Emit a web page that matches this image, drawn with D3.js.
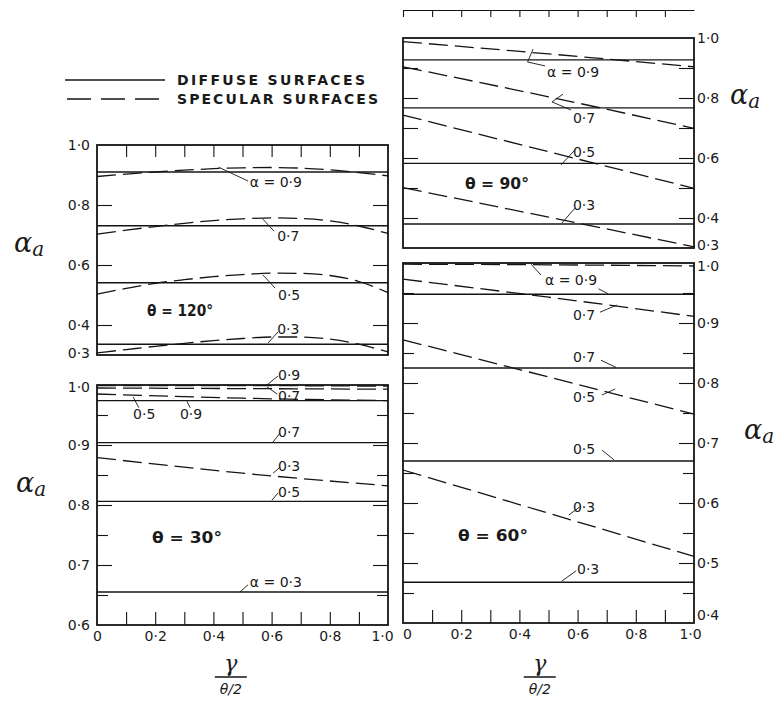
<!DOCTYPE html>
<html>
<head>
<meta charset="utf-8">
<script src="https://cdn.jsdelivr.net/npm/d3@7"></script>
<style>
  body { margin: 0; background: #fff; }
  text { font-family: "DejaVu Sans", "Liberation Sans", sans-serif; fill: #1a1a1a; }
</style>
</head>
<body>
<div id="graph"></div>
<script>
// values (alpha_a vs gamma/(theta/2))

var alphas = [0.9, 0.7, 0.5, 0.3];
var gammaArc = [0, 0.1, 0.2, 0.3, 0.4, 0.5, 0.6, 0.7, 0.8, 0.9, 1.0];
var gammaLine = [0, 0.5, 1.0];
var xTicks = [0, 0.2, 0.4, 0.6, 0.8, 1.0];

// theta = 120 deg
var diffuse120 = [0.910, 0.731, 0.541, 0.336];
var specular120 = [
  [0.895, 0.903, 0.910, 0.916, 0.921, 0.924, 0.925, 0.923, 0.917, 0.908, 0.897],
  [0.703, 0.716, 0.728, 0.739, 0.748, 0.754, 0.757, 0.755, 0.747, 0.730, 0.705],
  [0.503, 0.522, 0.539, 0.551, 0.561, 0.568, 0.573, 0.572, 0.565, 0.545, 0.508],
  [0.307, 0.318, 0.329, 0.339, 0.348, 0.355, 0.360, 0.360, 0.353, 0.336, 0.310]
];

// theta = 30 deg
var diffuse30 = [0.974, 0.904, 0.806, 0.655];
var specular30 = [
  [0.999, 0.999, 0.998],
  [0.995, 0.994, 0.993],
  [0.985, 0.978, 0.974],
  [0.879, 0.853, 0.832]
];

// theta = 90 deg
var diffuse90 = [0.927, 0.767, 0.582, 0.380];
var specular90 = [
  [0.988, 0.947, 0.904],
  [0.904, 0.804, 0.699],
  [0.743, 0.621, 0.499],
  [0.501, 0.403, 0.304]
];

// theta = 60 deg
var diffuse60 = [0.948, 0.825, 0.670, 0.468];
var specular60 = [
  [0.998, 0.997, 0.995],
  [0.973, 0.943, 0.911],
  [0.872, 0.810, 0.748],
  [0.655, 0.583, 0.511]
];

// svg
var w = 779, h = 701;
var vis = d3.select("#graph").append("svg").attr("width", w).attr("height", h);

var ink = "#141414";
var dash = "19,7";
var fmt = d => d === 0 ? "0" : d3.format(".1f")(d).replace(".", "\u00b7");

var panels = [
  { title: "\u03b8 = 120\u00b0", tpos: [0.172, 0.448], tlen: 66,
    x0: 97, x1: 388, yt: 145, yb: 355, dom: [0.3, 1.0], side: "left",
    labels: [1.0, 0.8, 0.6, 0.4, 0.3], major: [0.4, 0.6, 0.8], minor: [],
    yShift: { 0.3: -2 }, xShift: {},
    topTicks: true, bottomTicks: false,
    gx: gammaArc, diffuse: diffuse120, specular: specular120,
    notes: [
      { t: "\u03b1 = 0\u00b79", at: [0.525, 0.877], lead: [[0.418, 0.926], [0.519, 0.88]] },
      { t: "0\u00b77", at: [0.619, 0.697], lead: [[0.570, 0.753], [0.608, 0.713]] },
      { t: "0\u00b75", at: [0.622, 0.500], lead: [[0.570, 0.567], [0.612, 0.523]] },
      { t: "0\u00b73", at: [0.619, 0.387], lead: [[0.588, 0.340], [0.622, 0.377]] }
    ] },
  { title: "\u03b8 = 30\u00b0", tpos: [0.189, 0.747], tlen: 70,
    x0: 97, x1: 388, yt: 385, yb: 625, dom: [0.6, 1.0], side: "left",
    labels: [1.0, 0.9, 0.8, 0.7, 0.6], major: [0.7, 0.8, 0.9], minor: [0.65, 0.75, 0.85, 0.95],
    yShift: { 1: 2 }, xShift: { 1: -6 },
    topTicks: false, bottomTicks: true,
    gx: gammaLine, diffuse: diffuse30, specular: specular30,
    notes: [
      { t: "0\u00b79", at: [0.622, 1.017], lead: [[0.584, 1.0], [0.622, 1.015]] },
      { t: "0\u00b77", at: [0.622, 0.982], lead: [[0.584, 0.997], [0.619, 0.985]] },
      { t: "0\u00b75", at: [0.124, 0.952], lead: [[0.124, 0.980], [0.144, 0.962]] },
      { t: "0\u00b79", at: [0.285, 0.952], lead: [[0.309, 0.973], [0.320, 0.962]] },
      { t: "0\u00b77", at: [0.622, 0.922], lead: [[0.605, 0.905], [0.629, 0.920]] },
      { t: "0\u00b73", at: [0.622, 0.865], lead: [[0.605, 0.853], [0.629, 0.863]] },
      { t: "0\u00b75", at: [0.622, 0.822], lead: [[0.601, 0.808], [0.622, 0.820]] },
      { t: "\u03b1 = 0\u00b73", at: [0.525, 0.672], lead: [[0.491, 0.655], [0.519, 0.667]] }
    ] },
  { title: "\u03b8 = 90\u00b0", tpos: [0.213, 0.517], tlen: 64,
    x0: 403, x1: 694, yt: 38, yb: 248, dom: [0.3, 1.0], side: "right",
    labels: [1.0, 0.8, 0.6, 0.4, 0.3], major: [0.4, 0.5, 0.6, 0.7, 0.8, 0.9], minor: [],
    yShift: { 0.3: -3 }, xShift: {},
    topTicks: false, bottomTicks: false,
    gx: gammaLine, diffuse: diffuse90, specular: specular90,
    notes: [
      { t: "\u03b1 = 0\u00b79", at: [0.495, 0.887], lead: [[0.447, 0.963], [0.428, 0.920], [0.488, 0.907]] },
      { t: "0\u00b77", at: [0.584, 0.733], lead: [[0.550, 0.813], [0.512, 0.787], [0.577, 0.760]] },
      { t: "0\u00b75", at: [0.584, 0.620], lead: [[0.543, 0.577], [0.591, 0.627]] },
      { t: "0\u00b73", at: [0.584, 0.443], lead: [[0.546, 0.383], [0.591, 0.433]] }
    ] },
  { title: "\u03b8 = 60\u00b0", tpos: [0.189, 0.547], tlen: 70,
    x0: 403, x1: 694, yt: 263, yb: 623, dom: [0.4, 1.0], side: "right",
    labels: [1.0, 0.9, 0.8, 0.7, 0.6, 0.5, 0.4], major: [0.5, 0.6, 0.7, 0.8, 0.9], minor: [0.45, 0.55, 0.65, 0.75, 0.85, 0.95],
    yShift: { 1: 3, 0.4: -8 }, xShift: { 0: 4, 1: -4 },
    topTicks: false, bottomTicks: true,
    gx: gammaLine, diffuse: diffuse60, specular: specular60,
    notes: [
      { t: "\u03b1 = 0\u00b79", at: [0.488, 0.972], lead: [[0.440, 0.998], [0.474, 0.980]] },
      { t: "", at: [0, 0], lead: [[0.672, 0.957], [0.704, 0.949]] },
      { t: "0\u00b77", at: [0.584, 0.913], lead: [[0.677, 0.918], [0.735, 0.930]] },
      { t: "0\u00b77", at: [0.584, 0.843], lead: [[0.680, 0.838], [0.732, 0.826]] },
      { t: "0\u00b75", at: [0.584, 0.777], lead: [[0.684, 0.780], [0.729, 0.790]] },
      { t: "0\u00b75", at: [0.584, 0.690], lead: [[0.684, 0.688], [0.725, 0.672]] },
      { t: "0\u00b73", at: [0.584, 0.593], lead: [[0.570, 0.580], [0.612, 0.595]] },
      { t: "0\u00b73", at: [0.598, 0.490], lead: [[0.546, 0.470], [0.595, 0.487]] }
    ] }
];

function styleAxis(sel) {
  sel.select(".domain").remove();
  sel.attr("font-family", null).attr("font-size", null);
  sel.selectAll("line").attr("stroke", ink).attr("stroke-width", 1.1);
  sel.selectAll("text").attr("fill", ink).style("font-size", "14px");
}

function drawPanel(p) {
  var x = d3.scaleLinear().domain([0, 1]).range([p.x0, p.x1]);
  var y = d3.scaleLinear().domain(p.dom).range([p.yb, p.yt]);
  var g = vis.append("g");

  // inward ticks on both sides
  [[p.major, 15], [p.minor, 11]].forEach(function (t) {
    if (!t[0].length) return;
    g.append("g").attr("transform", "translate(" + p.x0 + ",0)")
      .call(d3.axisLeft(y).tickValues(t[0]).tickSize(-t[1]).tickFormat(""))
      .call(styleAxis);
    g.append("g").attr("transform", "translate(" + p.x1 + ",0)")
      .call(d3.axisRight(y).tickValues(t[0]).tickSize(-t[1]).tickFormat(""))
      .call(styleAxis);
  });

  // value labels
  var lab = p.side === "left" ? d3.axisLeft(y) : d3.axisRight(y);
  g.append("g").attr("transform", "translate(" + (p.side === "left" ? p.x0 : p.x1) + ",0)")
    .call(lab.tickValues(p.labels).tickSize(0).tickPadding(p.side === "left" ? 7 : 3).tickFormat(fmt))
    .call(styleAxis)
    .selectAll("text").attr("y", d => p.yShift[d] || 0);

  var xt = d3.range(1, 10).map(d => d / 10);
  if (p.topTicks) {
    g.append("g").attr("transform", "translate(0," + p.yt + ")")
      .call(d3.axisTop(x).tickValues(xt).tickSize(-12).tickFormat(""))
      .call(styleAxis);
  }
  if (p.bottomTicks) {
    g.append("g").attr("transform", "translate(0," + p.yb + ")")
      .call(d3.axisBottom(x).tickValues(xt).tickSize(-13).tickFormat(""))
      .call(styleAxis);
    g.append("g").attr("transform", "translate(0," + p.yb + ")")
      .call(d3.axisBottom(x).tickValues(xTicks).tickSize(0).tickPadding(6).tickFormat(fmt))
      .call(styleAxis)
      .selectAll("text").attr("x", d => p.xShift[d] || 0);
  }

  // frame
  g.append("rect").attr("x", p.x0).attr("y", p.yt)
    .attr("width", p.x1 - p.x0).attr("height", p.yb - p.yt)
    .attr("fill", "none").attr("stroke", ink).attr("stroke-width", 1.8);

  // diffuse surfaces: flat solid lines
  g.selectAll("line.diffuse").data(p.diffuse).enter().append("line")
    .attr("class", "diffuse")
    .attr("x1", x(0)).attr("x2", x(1))
    .attr("y1", d => y(d)).attr("y2", d => y(d))
    .attr("stroke", ink).attr("stroke-width", 1.4);

  // specular surfaces: dashed curves
  var line = d3.line().x((d, i) => x(p.gx[i])).y(d => y(d)).curve(d3.curveMonotoneX);
  g.selectAll("path.specular").data(p.specular).enter().append("path")
    .attr("class", "specular")
    .attr("d", line)
    .attr("fill", "none").attr("stroke", ink).attr("stroke-width", 1.3)
    .attr("stroke-dasharray", dash);

  // annotations
  var lead = d3.line().x(d => x(d[0])).y(d => y(d[1]));
  p.notes.forEach(function (n) {
    g.append("path").attr("d", lead(n.lead))
      .attr("fill", "none").attr("stroke", ink).attr("stroke-width", 0.9);
    if (n.t) {
      g.append("text").attr("x", x(n.at[0])).attr("y", y(n.at[1])).attr("dy", "0.36em")
        .style("font-size", "14px").text(n.t);
    }
  });

  g.append("text").attr("x", x(p.tpos[0])).attr("y", y(p.tpos[1])).attr("dy", "0.36em")
    .attr("textLength", p.tlen).attr("lengthAdjust", "spacingAndGlyphs")
    .style("font-size", "16px").style("font-weight", "bold").text(p.title);

  return x;
}

var xs = panels.map(drawPanel);

// cut-off tick strip above the theta = 90 panel
vis.append("g").attr("transform", "translate(0,10)")
  .call(d3.axisTop(xs[2]).tickValues(d3.range(0, 10).map(d => d / 10)).tickSize(-7).tickSizeOuter(0).tickFormat(""))
  .call(function (s) {
    s.attr("font-family", null);
    s.selectAll("line, path").attr("stroke", ink).attr("stroke-width", 1.1);
  });

// alpha_a axis titles
var yTitles = [[14, 252], [16, 492], [730, 104], [744, 439]];
yTitles.forEach(function (pos) {
  var t = vis.append("text").attr("x", pos[0]).attr("y", pos[1])
    .style("font-family", "'DejaVu Serif', serif").style("font-style", "italic");
  t.append("tspan").style("font-size", "27px").text("\u03b1");
  t.append("tspan").attr("dy", 4).style("font-size", "20px").text("a");
});

// gamma / (theta/2) axis titles
[[xs[1], 0.46], [xs[3], 0.47]].forEach(function (a) {
  var cx = a[0](a[1]);
  vis.append("text").attr("x", cx).attr("y", 671).attr("text-anchor", "middle")
    .style("font-family", "'DejaVu Serif', serif").style("font-style", "italic").style("font-size", "22px")
    .text("\u03b3");
  vis.append("line").attr("x1", cx - 16).attr("x2", cx + 16).attr("y1", 677).attr("y2", 677)
    .attr("stroke", ink).attr("stroke-width", 1.4);
  vis.append("text").attr("x", cx).attr("y", 694).attr("text-anchor", "middle")
    .style("font-style", "italic").style("font-size", "14px")
    .text("\u03b8/2");
});

// legend
var legend = vis.append("g");
legend.append("line").attr("x1", 65).attr("x2", 165).attr("y1", 80).attr("y2", 80)
  .attr("stroke", ink).attr("stroke-width", 1.3);
legend.append("line").attr("x1", 67).attr("x2", 165).attr("y1", 99).attr("y2", 99)
  .attr("stroke", ink).attr("stroke-width", 1.3).attr("stroke-dasharray", "24,10");
legend.append("text").attr("x", 177).attr("y", 85).attr("textLength", 188).attr("lengthAdjust", "spacing")
  .style("font-size", "14px").style("font-weight", "bold").text("DIFFUSE SURFACES");
legend.append("text").attr("x", 177).attr("y", 104).attr("textLength", 201).attr("lengthAdjust", "spacing")
  .style("font-size", "14px").style("font-weight", "bold").text("SPECULAR SURFACES");
</script>
</body>
</html>
